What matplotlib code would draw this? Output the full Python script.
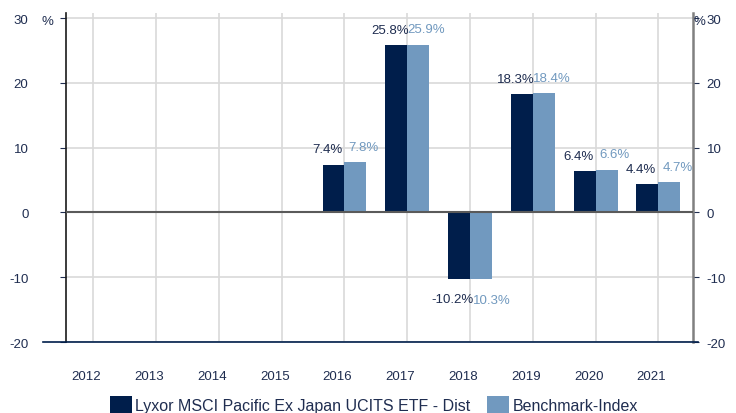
import matplotlib
matplotlib.use("Agg")
import matplotlib.pyplot as plt
import matplotlib.transforms as mtransforms
from matplotlib.lines import Line2D
from matplotlib.patches import Patch
import numpy as np

plt.rcParams['font.family'] = ['Liberation Sans', 'DejaVu Sans']
plt.rcParams['axes.unicode_minus'] = False

years = ['2012', '2013', '2014', '2015', '2016', '2017', '2018', '2019', '2020', '2021']
fund = [np.nan, np.nan, np.nan, np.nan, 7.4, 25.8, -10.2, 18.3, 6.4, 4.4]
bench = [np.nan, np.nan, np.nan, np.nan, 7.8, 25.9, -10.3, 18.4, 6.6, 4.7]
fund_name = 'Lyxor MSCI Pacific Ex Japan UCITS ETF - Dist'
bench_name = 'Benchmark-Index'
yticks = [-20, -10, 0, 10, 20, 30]

DARK = '#001e4b'
LIGHT = '#7199bf'
TXT = '#1f2d50'
GRID = '#d9d9d9'

fig = plt.figure(figsize=(7.36, 4.14), dpi=100)
ax = fig.add_axes([66 / 736, 71 / 414, 627 / 736, 329 / 414])

x = np.arange(len(years))
w = 0.35
ax.bar(x - w / 2, fund, w, color=DARK, zorder=3)
ax.bar(x + w / 2, bench, w, color=LIGHT, zorder=3)

ax.set_xlim(-0.435, 9.55)
ax.set_ylim(-20, 30.8)

# grid
ax.set_xticks(x)
ax.set_yticks(yticks)
ax.grid(True, color=GRID, linewidth=1.2, zorder=0)
ax.axhline(0, color='#5a5a5a', linewidth=1.5, zorder=4)

# year labels, shifted a little left of the gridlines
ax.set_xticklabels(years, fontsize=9.5, color=TXT)
ax.tick_params(axis='x', length=0, pad=20)
shift = mtransforms.ScaledTranslation(-7 / 100, 0, fig.dpi_scale_trans)
for lab in ax.get_xticklabels():
    lab.set_transform(lab.get_transform() + shift)

# y labels on both sides; left ones sit far out, right ones close in
ax.tick_params(axis='y', direction='out', length=4, color=TXT, labelsize=9.5,
               labelcolor=TXT, left=True, right=True, labelleft=True,
               labelright=True, pad=23)
for t in ax.yaxis.get_major_ticks():
    t.label2.set_transform(t.label2.get_transform() +
                           mtransforms.ScaledTranslation(-24 / 100, 0, fig.dpi_scale_trans))

ax.spines['top'].set_visible(False)
ax.spines['bottom'].set_visible(False)
ax.spines['left'].set_color('#1a1a1a')
ax.spines['left'].set_linewidth(1.2)
ax.spines['right'].set_color('#808080')
ax.spines['right'].set_linewidth(1.8)

# baseline at the bottom, wider than the plot area
fig.add_artist(Line2D([43 / 736, 698 / 736], [71 / 414, 71 / 414],
                      color=DARK, linewidth=1.2, transform=fig.transFigure))

# percent signs
fig.text(47 / 736, (414 - 22) / 414, '%', fontsize=9.5, color=TXT, ha='center', va='center')
fig.text(699 / 736, (414 - 22) / 414, '%', fontsize=9.5, color=TXT, ha='center', va='center')

# value labels
for i in range(len(years)):
    if not np.isnan(fund[i]):
        v = fund[i]
        dy = 11 if v >= 0 else -15
        ax.annotate(f'{v:.1f}%', (x[i] - w / 2, v), xytext=(-4.5, dy),
                    textcoords='offset points', ha='center', va='center',
                    fontsize=9.5, color=TXT, zorder=5)
    if not np.isnan(bench[i]):
        v = bench[i]
        if v >= 0:
            ax.annotate(f'{v:.1f}%', (x[i] + w / 2, v), xytext=(6, 11),
                        textcoords='offset points', ha='center', va='center',
                        fontsize=9.5, color=LIGHT, zorder=5)
        else:
            ax.annotate(f'{abs(v):.1f}%', (x[i] + w / 2, v), xytext=(7.5, -15),
                        textcoords='offset points', ha='center', va='center',
                        fontsize=9.5, color=LIGHT, zorder=5)

handles = [Patch(facecolor=DARK, edgecolor='none'), Patch(facecolor=LIGHT, edgecolor='none')]
fig.legend(handles, [fund_name, bench_name], loc='center', ncol=2,
           bbox_to_anchor=(0.508, 8 / 414), frameon=False, fontsize=11.5,
           labelcolor=TXT, handlelength=1.375, handleheight=1.375,
           handletextpad=0.2, columnspacing=1.05, borderpad=0, borderaxespad=0)

fig.savefig('out.png', dpi=100)
